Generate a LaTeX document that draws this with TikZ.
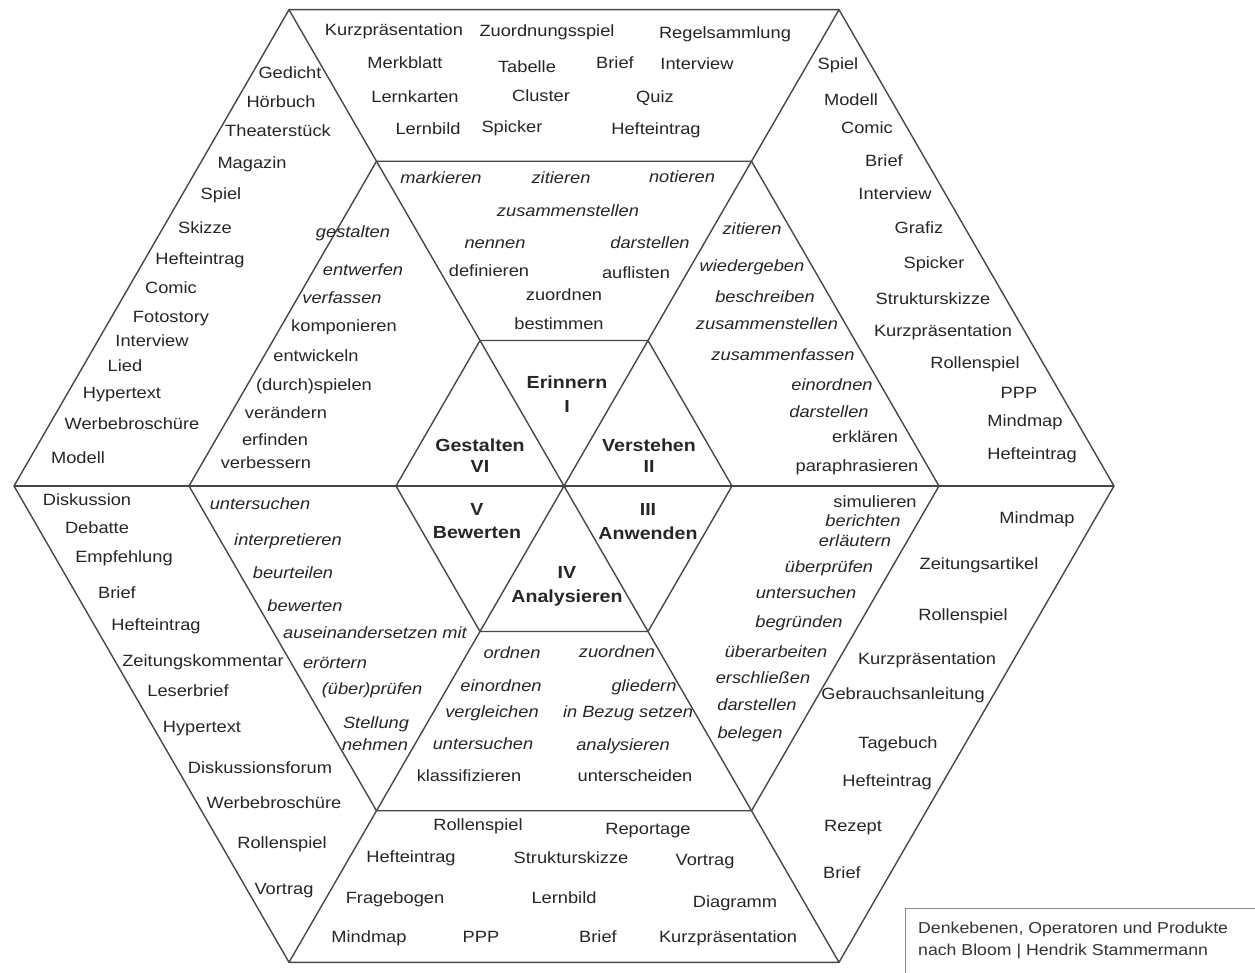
\documentclass[tikz,border=0pt]{standalone}
\usepackage{fontspec}
\setmainfont{Liberation Sans}[FakeStretch=1.12]
\begin{document}
\begin{tikzpicture}[x=1pt,y=-1pt,
  ln/.style={line width=1.4pt, draw=black!72},
  txt/.style={inner sep=0pt, anchor=base, yshift=-5.5pt, text=black!85, font=\fontsize{16.3}{19}\selectfont},
  itxt/.style={txt, font=\fontsize{16.3}{19}\selectfont\itshape},
  btxt/.style={txt, font=\fontsize{17.5}{20}\selectfont\bfseries},
  ftxt/.style={inner sep=0pt, anchor=base west, yshift=-5.5pt, text=black!80, font=\fontsize{15.8}{19}\selectfont}]
\useasboundingbox (0,0) rectangle (1255,972);
\fill[white] (0,0) rectangle (1255,972);
\coordinate (C) at (564,486);
\foreach \a in {0,60,...,300}{
  \coordinate (O\a) at ([shift={(\a:550)}]C);
  \coordinate (M\a) at ([shift={(\a:375)}]C);
  \coordinate (I\a) at ([shift={(\a:168)}]C);
}
\draw[ln] (O0)--(O60)--(O120)--(O180)--(O240)--(O300)--cycle;
\draw[ln] (M0)--(M60)--(M120)--(M180)--(M240)--(M300)--cycle;
\draw[ln] (I0)--(I60)--(I120)--(I180)--(I240)--(I300)--cycle;
\draw[ln] (O0)--(O180);
\draw[ln] (O60)--(O240);
\draw[ln] (O120)--(O300);
% footer box
\draw[line width=0.8pt, draw=black!45] (905,985) -- (905,908) -- (1270,908);
\node[ftxt] (f1) at (918,928) {Denkebenen, Operatoren und Produkte};
\node[ftxt] (f2) at (918,950) {nach Bloom | Hendrik Stammermann};
% centre labels
\node[btxt] (c1a) at (567,383) {Erinnern};
\node[btxt] (c1b) at (567,407) {I};
\node[btxt] (c6a) at (480,446) {Gestalten};
\node[btxt] (c6b) at (480,467) {VI};
\node[btxt] (c2a) at (649,446) {Verstehen};
\node[btxt] (c2b) at (649,467) {II};
\node[btxt] (c5a) at (477,510) {V};
\node[btxt] (c5b) at (477,533) {Bewerten};
\node[btxt] (c3a) at (648,510) {III};
\node[btxt] (c3b) at (648,534) {Anwenden};
\node[btxt] (c4a) at (567,573) {IV};
\node[btxt] (c4b) at (567,597) {Analysieren};
% top outer
\node[txt] (t1) at (394,30) {Kurzpräsentation};
\node[txt] (t2) at (547,31) {Zuordnungsspiel};
\node[txt] (t3) at (725,33) {Regelsammlung};
\node[txt] (t4) at (405,63) {Merkblatt};
\node[txt] (t5) at (527,67) {Tabelle};
\node[txt] (t6) at (615,63) {Brief};
\node[txt] (t7) at (697,64) {Interview};
\node[txt] (t8) at (415,97) {Lernkarten};
\node[txt] (t9) at (541,96) {Cluster};
\node[txt] (t10) at (655,97) {Quiz};
\node[txt] (t11) at (428,129) {Lernbild};
\node[txt] (t12) at (512,127) {Spicker};
\node[txt] (t13) at (656,129) {Hefteintrag};
% upper-left outer
\node[txt] (u1) at (290,73) {Gedicht};
\node[txt] (u2) at (281,102) {Hörbuch};
\node[txt] (u3) at (278,131) {Theaterstück};
\node[txt] (u4) at (252,163) {Magazin};
\node[txt] (u5) at (221,194) {Spiel};
\node[txt] (u6) at (205,228) {Skizze};
\node[txt] (u7) at (200,259) {Hefteintrag};
\node[txt] (u8) at (171,288) {Comic};
\node[txt] (u9) at (171,317) {Fotostory};
\node[txt] (u10) at (152,341) {Interview};
\node[txt] (u11) at (125,366) {Lied};
\node[txt] (u12) at (122,393) {Hypertext};
\node[txt] (u13) at (132,424) {Werbebroschüre};
\node[txt] (u14) at (78,458) {Modell};
% Gestalten operators
\node[itxt] (g1) at (353,232) {gestalten};
\node[itxt] (g2) at (363,270) {entwerfen};
\node[itxt] (g3) at (342,298) {verfassen};
\node[txt] (g4) at (344,326) {komponieren};
\node[txt] (g5) at (316,356) {entwickeln};
\node[txt] (g6) at (314,385) {(durch)spielen};
\node[txt] (g7) at (286,413) {verändern};
\node[txt] (g8) at (275,440) {erfinden};
\node[txt] (g9) at (266,463) {verbessern};
% Erinnern operators
\node[itxt] (e1) at (441,178) {markieren};
\node[itxt] (e2) at (561,178) {zitieren};
\node[itxt] (e3) at (682,177) {notieren};
\node[itxt] (e4) at (568,211) {zusammenstellen};
\node[itxt] (e5) at (495,243) {nennen};
\node[itxt] (e6) at (650,243) {darstellen};
\node[txt] (e7) at (489,271) {definieren};
\node[txt] (e8) at (636,273) {auflisten};
\node[txt] (e9) at (564,295) {zuordnen};
\node[txt] (e10) at (559,324) {bestimmen};
% Verstehen operators
\node[itxt] (v1) at (752,229) {zitieren};
\node[itxt] (v2) at (752,266) {wiedergeben};
\node[itxt] (v3) at (765,297) {beschreiben};
\node[itxt] (v4) at (767,324) {zusammenstellen};
\node[itxt] (v5) at (783,355) {zusammenfassen};
\node[itxt] (v6) at (832,385) {einordnen};
\node[itxt] (v7) at (829,412) {darstellen};
\node[txt] (v8) at (865,437) {erklären};
\node[txt] (v9) at (857,466) {paraphrasieren};
% upper-right outer
\node[txt] (r1) at (838,64) {Spiel};
\node[txt] (r2) at (851,100) {Modell};
\node[txt] (r3) at (867,128) {Comic};
\node[txt] (r4) at (884,161) {Brief};
\node[txt] (r5) at (895,194) {Interview};
\node[txt] (r6) at (919,228) {Grafiz};
\node[txt] (r7) at (934,263) {Spicker};
\node[txt] (r8) at (933,299) {Strukturskizze};
\node[txt] (r9) at (943,331) {Kurzpräsentation};
\node[txt] (r10) at (975,363) {Rollenspiel};
\node[txt] (r11) at (1019,393) {PPP};
\node[txt] (r12) at (1025,421) {Mindmap};
\node[txt] (r13) at (1032,454) {Hefteintrag};
% Bewerten operators
\node[itxt] (w1) at (260,504) {untersuchen};
\node[itxt] (w2) at (288,540) {interpretieren};
\node[itxt] (w3) at (293,573) {beurteilen};
\node[itxt] (w4) at (305,606) {bewerten};
\node[itxt] (w5) at (375,633) {auseinandersetzen mit};
\node[itxt] (w6) at (335,663) {erörtern};
\node[itxt] (w7) at (372,689) {(über)prüfen};
\node[itxt] (w8) at (376,723) {Stellung};
\node[itxt] (w9) at (375,745) {nehmen};
% lower-left outer
\node[txt] (l1) at (87,500) {Diskussion};
\node[txt] (l2) at (97,528) {Debatte};
\node[txt] (l3) at (124,557) {Empfehlung};
\node[txt] (l4) at (117,593) {Brief};
\node[txt] (l5) at (156,625) {Hefteintrag};
\node[txt] (l6) at (203,661) {Zeitungskommentar};
\node[txt] (l7) at (188,691) {Leserbrief};
\node[txt] (l8) at (202,727) {Hypertext};
\node[txt] (l9) at (260,768) {Diskussionsforum};
\node[txt] (l10) at (274,803) {Werbebroschüre};
\node[txt] (l11) at (282,843) {Rollenspiel};
\node[txt] (l12) at (284,889) {Vortrag};
% Anwenden operators
\node[txt] (a1) at (875,502) {simulieren};
\node[itxt] (a2) at (863,521) {berichten};
\node[itxt] (a3) at (855,541) {erläutern};
\node[itxt] (a4) at (829,567) {überprüfen};
\node[itxt] (a5) at (806,593) {untersuchen};
\node[itxt] (a6) at (799,622) {begründen};
\node[itxt] (a7) at (776,652) {überarbeiten};
\node[itxt] (a8) at (763,678) {erschließen};
\node[itxt] (a9) at (757,705) {darstellen};
\node[itxt] (a10) at (750,733) {belegen};
% lower-right outer
\node[txt] (k1) at (1037,518) {Mindmap};
\node[txt] (k2) at (979,564) {Zeitungsartikel};
\node[txt] (k3) at (963,615) {Rollenspiel};
\node[txt] (k4) at (927,659) {Kurzpräsentation};
\node[txt] (k5) at (903,694) {Gebrauchsanleitung};
\node[txt] (k6) at (898,743) {Tagebuch};
\node[txt] (k7) at (887,781) {Hefteintrag};
\node[txt] (k8) at (853,826) {Rezept};
\node[txt] (k9) at (842,873) {Brief};
% Analysieren operators
\node[itxt] (n1) at (512,653) {ordnen};
\node[itxt] (n2) at (617,652) {zuordnen};
\node[itxt] (n3) at (501,686) {einordnen};
\node[itxt] (n4) at (644,686) {gliedern};
\node[itxt] (n5) at (492,712) {vergleichen};
\node[itxt] (n6) at (628,712) {in Bezug setzen};
\node[itxt] (n7) at (483,744) {untersuchen};
\node[itxt] (n8) at (623,745) {analysieren};
\node[txt] (n9) at (469,776) {klassifizieren};
\node[txt] (n10) at (635,776) {unterscheiden};
% bottom outer
\node[txt] (b1) at (478,825) {Rollenspiel};
\node[txt] (b2) at (648,829) {Reportage};
\node[txt] (b3) at (411,857) {Hefteintrag};
\node[txt] (b4) at (571,858) {Strukturskizze};
\node[txt] (b5) at (705,860) {Vortrag};
\node[txt] (b6) at (395,898) {Fragebogen};
\node[txt] (b7) at (564,898) {Lernbild};
\node[txt] (b8) at (735,902) {Diagramm};
\node[txt] (b9) at (369,937) {Mindmap};
\node[txt] (b10) at (481,937) {PPP};
\node[txt] (b11) at (598,937) {Brief};
\node[txt] (b12) at (728,937) {Kurzpräsentation};
\end{tikzpicture}
\end{document}
